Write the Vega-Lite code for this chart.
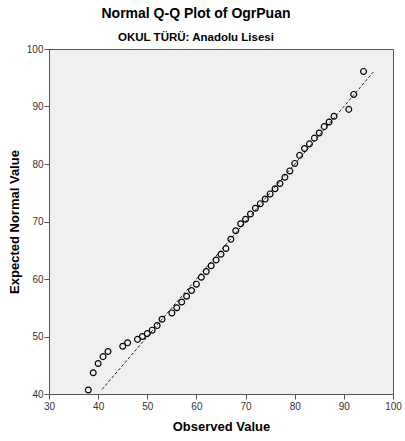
{
  "$schema": "https://vega.github.io/schema/vega-lite/v6.json",
  "width": 344,
  "height": 345,
  "autosize": {"type": "none"},
  "padding": {"left": 49, "top": 49, "right": 12, "bottom": 47},
  "background": "white",
  "config": {
    "view": {"fill": "#F0F0F0", "stroke": "#555555", "strokeWidth": 1},
    "font": "Liberation Sans"
  },
  "title": {
    "text": "Normal Q-Q Plot of OgrPuan",
    "subtitle": "OKUL TÜRÜ: Anadolu Lisesi",
    "fontSize": 14,
    "fontWeight": "bold",
    "subtitleFontSize": 11.5,
    "subtitleFontWeight": "bold",
    "font": "Liberation Sans",
    "subtitleFont": "Liberation Sans",
    "color": "#000000",
    "subtitleColor": "#000000",
    "anchor": "middle",
    "dx": -25,
    "offset": 1,
    "subtitlePadding": 11
  },
  "datasets": {
    "refline": [{"obs": 40.8, "exp": 40.8}, {"obs": 96, "exp": 96}],
    "points": [
      {"obs": 38, "exp": 40.7}, {"obs": 39, "exp": 43.7}, {"obs": 40, "exp": 45.3},
      {"obs": 41, "exp": 46.5}, {"obs": 42, "exp": 47.4}, {"obs": 45, "exp": 48.3},
      {"obs": 46, "exp": 48.9}, {"obs": 48, "exp": 49.5}, {"obs": 49, "exp": 50.0},
      {"obs": 50, "exp": 50.5}, {"obs": 51, "exp": 51.1}, {"obs": 52, "exp": 51.9},
      {"obs": 53, "exp": 53.0}, {"obs": 55, "exp": 54.1}, {"obs": 56, "exp": 55.0},
      {"obs": 57, "exp": 56.0}, {"obs": 58, "exp": 57.0}, {"obs": 59, "exp": 58.0},
      {"obs": 60, "exp": 59.1}, {"obs": 61, "exp": 60.3}, {"obs": 62, "exp": 61.3},
      {"obs": 63, "exp": 62.3}, {"obs": 64, "exp": 63.3}, {"obs": 65, "exp": 64.3},
      {"obs": 66, "exp": 65.3}, {"obs": 67, "exp": 66.9}, {"obs": 68, "exp": 68.4},
      {"obs": 69, "exp": 69.6}, {"obs": 70, "exp": 70.4}, {"obs": 71, "exp": 71.3},
      {"obs": 72, "exp": 72.3}, {"obs": 73, "exp": 73.1}, {"obs": 74, "exp": 73.9},
      {"obs": 75, "exp": 74.8}, {"obs": 76, "exp": 75.7}, {"obs": 77, "exp": 76.6},
      {"obs": 78, "exp": 77.7}, {"obs": 79, "exp": 78.8}, {"obs": 80, "exp": 80.1},
      {"obs": 81, "exp": 81.5}, {"obs": 82, "exp": 82.7}, {"obs": 83, "exp": 83.5},
      {"obs": 84, "exp": 84.5}, {"obs": 85, "exp": 85.4}, {"obs": 86, "exp": 86.5},
      {"obs": 87, "exp": 87.3}, {"obs": 88, "exp": 88.3}, {"obs": 91, "exp": 89.5},
      {"obs": 92, "exp": 92.1}, {"obs": 94, "exp": 96.1}
    ]
  },
  "encoding": {
    "x": {
      "field": "obs",
      "type": "quantitative",
      "scale": {"domain": [30, 100], "nice": false, "zero": false},
      "axis": {
        "values": [30, 40, 50, 60, 70, 80, 90, 100],
        "grid": false,
        "labelFlush": false,
        "labelOverlap": false,
        "tickSize": 5,
        "tickColor": "#555555",
        "domainColor": "#555555",
        "labelFontSize": 10,
        "labelColor": "#333333",
        "labelPadding": 2,
        "title": "Observed Value",
        "titleFontSize": 13,
        "titleFontWeight": "bold",
        "titleColor": "#000000",
        "titlePadding": 9
      }
    },
    "y": {
      "field": "exp",
      "type": "quantitative",
      "scale": {"domain": [40, 100], "nice": false, "zero": false},
      "axis": {
        "values": [40, 50, 60, 70, 80, 90, 100],
        "grid": false,
        "labelFlush": false,
        "labelOverlap": false,
        "tickSize": 5,
        "tickColor": "#555555",
        "domainColor": "#555555",
        "labelFontSize": 10,
        "labelColor": "#333333",
        "labelPadding": 1,
        "title": "Expected Normal Value",
        "titleFontSize": 13,
        "titleFontWeight": "bold",
        "titleColor": "#000000",
        "titlePadding": 5
      }
    }
  },
  "layer": [
    {
      "data": {"name": "refline"},
      "mark": {"type": "line", "strokeDash": [3, 2], "color": "#222222", "strokeWidth": 1}
    },
    {
      "data": {"name": "points"},
      "mark": {"type": "point", "shape": "circle", "filled": false, "stroke": "#000000", "strokeWidth": 1.2, "size": 34, "opacity": 1}
    }
  ]
}
